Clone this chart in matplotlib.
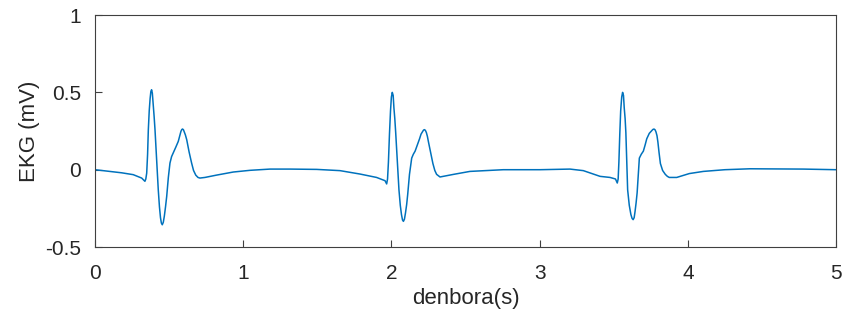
import numpy as np
import matplotlib.pyplot as plt

plt.rcParams['font.family'] = ['Liberation Sans', 'DejaVu Sans']

# EKG readings (time in s, voltage in mV)
t = [0.000, 0.101, 0.180, 0.258, 0.315, 0.337, 0.343, 0.349, 0.355, 0.360,
     0.366, 0.372, 0.377, 0.382, 0.387, 0.393, 0.399, 0.405, 0.416, 0.427,
     0.435, 0.442, 0.448, 0.454, 0.461, 0.468, 0.476, 0.484, 0.495, 0.506,
     0.517, 0.528, 0.545, 0.562, 0.572, 0.580, 0.586, 0.591, 0.597, 0.602,
     0.610, 0.619, 0.635, 0.652, 0.665, 0.680, 0.695, 0.708, 0.742, 0.820,
     0.933, 1.046, 1.181, 1.316, 1.496, 1.653, 1.788, 1.900, 1.957, 1.968,
     1.974, 1.980, 1.987, 1.994, 2.000, 2.006, 2.012, 2.017, 2.023, 2.029,
     2.040, 2.051, 2.060, 2.068, 2.075, 2.081, 2.088, 2.095, 2.103, 2.110,
     2.122, 2.137, 2.148, 2.160, 2.175, 2.190, 2.200, 2.210, 2.216, 2.222,
     2.229, 2.236, 2.243, 2.250, 2.265, 2.280, 2.293, 2.305, 2.328, 2.420,
     2.530, 2.755, 3.003, 3.205, 3.295, 3.408, 3.475, 3.512, 3.524, 3.530,
     3.535, 3.541, 3.547, 3.554, 3.560, 3.566, 3.571, 3.577, 3.582, 3.588,
     3.594, 3.605, 3.616, 3.624, 3.631, 3.638, 3.644, 3.651, 3.658, 3.666,
     3.673, 3.686, 3.700, 3.712, 3.723, 3.740, 3.755, 3.764, 3.772, 3.779,
     3.785, 3.792, 3.798, 3.806, 3.815, 3.830, 3.848, 3.862, 3.875, 3.900,
     3.925, 4.010, 4.105, 4.250, 4.420, 4.600, 4.780, 5.000]
v = [0.000, -0.011, -0.020, -0.032, -0.054, -0.075, -0.060, -0.022, 0.100, 0.259,
     0.380, 0.460, 0.505, 0.517, 0.495, 0.420, 0.345, 0.259, 0.060, -0.129,
     -0.240, -0.310, -0.345, -0.356, -0.340, -0.300, -0.240, -0.172, -0.050, 0.043,
     0.085, 0.108, 0.145, 0.183, 0.220, 0.248, 0.260, 0.263, 0.258, 0.245,
     0.225, 0.194, 0.115, 0.043, -0.005, -0.035, -0.050, -0.054, -0.050, -0.035,
     -0.015, -0.004, 0.004, 0.004, 0.002, -0.006, -0.028, -0.050, -0.071, -0.092,
     -0.060, 0.050, 0.230, 0.380, 0.470, 0.500, 0.480, 0.400, 0.330, 0.240,
     0.050, -0.130, -0.230, -0.290, -0.325, -0.334, -0.320, -0.280, -0.225, -0.160,
     -0.030, 0.075, 0.100, 0.120, 0.160, 0.200, 0.230, 0.245, 0.255, 0.259,
     0.255, 0.240, 0.215, 0.180, 0.110, 0.040, -0.005, -0.030, -0.047, -0.030,
     -0.011, 0.000, 0.000, 0.004, -0.006, -0.043, -0.050, -0.060, -0.086, -0.060,
     0.050, 0.230, 0.380, 0.470, 0.500, 0.480, 0.400, 0.330, 0.240, 0.050,
     -0.130, -0.230, -0.290, -0.315, -0.323, -0.310, -0.270, -0.215, -0.150, -0.030,
     0.075, 0.100, 0.120, 0.160, 0.200, 0.235, 0.250, 0.260, 0.263, 0.258,
     0.245, 0.220, 0.180, 0.110, 0.040, -0.005, -0.030, -0.043, -0.050, -0.050,
     -0.050, -0.025, -0.011, 0.000, 0.006, 0.005, 0.004, 0.000]

fig = plt.figure(figsize=(8.42, 3.2), dpi=100)
ax = fig.add_axes([0.1128, 0.228, 0.8801, 0.725])
ax.plot(t, v, color="#0072BD", lw=1.1)
ax.set_xlim(0, 5)
ax.set_ylim(-0.5, 1)
ax.set_xticks([0, 1, 2, 3, 4, 5])
ax.set_yticks([-0.5, 0, 0.5, 1])
ax.set_yticklabels(["-0.5", "0", "0.5", "1"])
ax.tick_params(direction="in", length=5, width=0.8, color="#404040",
               labelcolor="#262626", labelsize=15)
ax.tick_params(axis="x", pad=12)
ax.tick_params(axis="y", pad=10)
for s in ax.spines.values():
    s.set_color("#404040")
    s.set_linewidth(0.8)
ax.set_xlabel("denbora(s)", fontsize=16, color="#262626", labelpad=4)
ax.set_ylabel("EKG (mV)", fontsize=16, color="#262626", labelpad=4)
fig.savefig("out.png", dpi=100)
plt.close()
